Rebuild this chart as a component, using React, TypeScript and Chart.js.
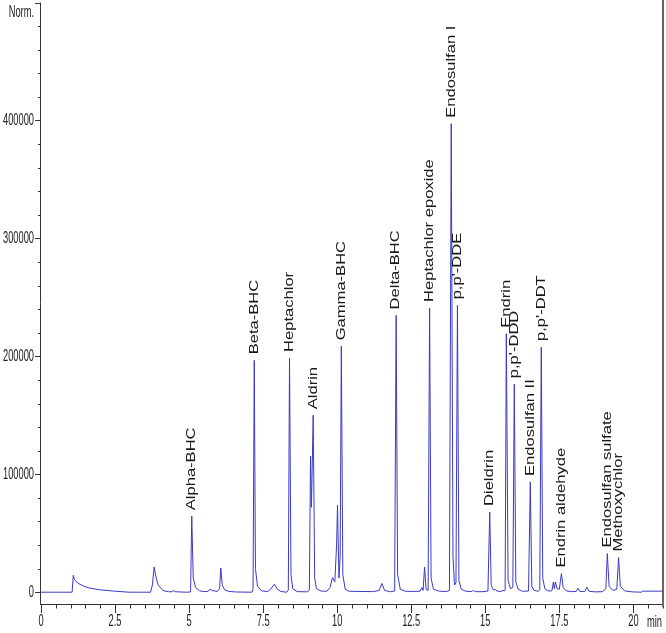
import React, { useEffect, useRef } from "react";
import { Chart, registerables } from "chart.js";

Chart.register(...registerables);

// Chromatogram trace: [retention time (min), response]
const trace: [number, number][] = [
  [0, 0], [1.05, 0], [1.09, 14400], [1.13, 10500], [1.25, 7600], [1.45, 5000], [1.66, 3400], [2.0, 2000], [2.43, 1000], [2.8, 300], [3.0, 0],
  [3.7, 0], [3.76, 6000], [3.82, 21400], [3.88, 13000], [3.96, 5900], [4.12, 1400], [4.3, 400], [4.42, 400], [4.47, 1500], [4.52, 400], [4.9, 0],
  [5.05, 200], [5.09, 64400], [5.14, 12000], [5.22, 4000], [5.35, 1200], [5.5, 500], [5.65, 800], [5.71, 2600], [5.78, 1500], [5.95, 600],
  [6.03, 3000], [6.07, 20600], [6.12, 6000], [6.2, 2000], [6.35, 600], [6.6, 200],
  [7.12, 0], [7.16, 3000], [7.2, 196600], [7.24, 20000], [7.31, 5000], [7.45, 1200], [7.65, 500], [7.75, 2500], [7.88, 6800], [7.98, 2500], [8.1, 600], [8.3, 0],
  [8.35, 2000], [8.39, 198600], [8.44, 15000], [8.5, 3000], [8.65, 500], [9.0, 300], [9.06, 2000], [9.1, 115300], [9.13, 72000], [9.19, 150000],
  [9.24, 12000], [9.3, 3000], [9.45, 1000], [9.65, 800], [9.76, 4000], [9.84, 12400], [9.92, 8700], [9.98, 40000], [10.01, 73700], [10.06, 12000],
  [10.1, 30000], [10.14, 208500], [10.19, 15000], [10.27, 2500], [10.4, 800], [10.8, 600], [11.2, 500], [11.42, 1500], [11.51, 7400], [11.6, 1500],
  [11.8, 400], [11.94, 1000], [11.99, 234700], [12.04, 15000], [12.13, 2500], [12.3, 800], [12.6, 600], [12.8, 900], [12.86, 4000], [12.9, 1500],
  [12.95, 21400], [13.0, 2500], [13.07, 1500], [13.12, 241000], [13.17, 12000], [13.25, 2500], [13.45, 800], [13.7, 600], [13.79, 1500],
  [13.85, 397200], [13.91, 30000], [13.96, 6000], [14.01, 8000], [14.06, 243200], [14.11, 10000], [14.19, 2500], [14.35, 800], [14.55, 500],
  [14.6, 1800], [14.65, 500], [14.9, 400], [15.09, 1000], [15.15, 68000], [15.2, 6000], [15.27, 2000], [15.34, 2200], [15.42, 800], [15.55, 700],
  [15.6, 1800], [15.64, 900], [15.67, 2000], [15.71, 219200], [15.77, 10000], [15.85, 3000], [15.93, 4000], [15.98, 176300], [16.03, 9000],
  [16.11, 2500], [16.25, 800], [16.46, 1000], [16.52, 93500], [16.57, 5000], [16.65, 1500], [16.79, 800], [16.84, 2000], [16.89, 207900],
  [16.94, 12000], [17.01, 3000], [17.12, 1000], [17.25, 1200], [17.3, 8700], [17.33, 3000], [17.37, 8700], [17.42, 3000], [17.5, 2500],
  [17.57, 15800], [17.63, 4000], [17.73, 1200], [17.9, 500], [18.07, 600], [18.13, 3400], [18.19, 700], [18.36, 600], [18.43, 4200], [18.5, 800],
  [18.7, 300], [18.95, 400], [19.07, 3000], [19.12, 32800], [19.18, 5000], [19.3, 1500], [19.44, 2500], [19.5, 29400], [19.56, 5000], [19.7, 1200],
  [19.95, 300], [20.28, 0], [20.3, 900], [21, 900],
];

const peakNames = [
  "Alpha-BHC", "Beta-BHC", "Heptachlor", "Aldrin", "Gamma-BHC", "Delta-BHC", "Heptachlor epoxide",
  "Endosulfan I", "p,p'-DDE", "Dieldrin", "Endrin", "p,p'-DDD", "Endosulfan II", "p,p'-DDT",
  "Endrin aldehyde", "Endosulfan sulfate", "Methoxychlor",
];
const peakTimes = [5.09, 7.2, 8.39, 9.19, 10.14, 11.99, 13.12, 13.85, 14.06, 15.15, 15.71, 15.98, 16.52, 16.89, 17.57, 19.12, 19.5];

const xMajorTicks = [0, 2.5, 5, 7.5, 10, 12.5, 15, 17.5, 20];
const xTickLabels = ["0", "2.5", "5", "7.5", "10", "12.5", "15", "17.5", "20"];
const yMajorTicks = [0, 100000, 200000, 300000, 400000];
const yTickLabels = ["0", "100000", "200000", "300000", "400000"];
const xMinorStep = 0.5;
const yMinorStep = 20000;
const xMin = 0, xMax = 21, yMin = -10000, yMax = 500000;

const AXIS_FONT = "9.3px 'Liberation Sans', Arial, sans-serif";
const LABEL_FONT = "12px 'Liberation Sans', Arial, sans-serif";

function stretchedText(ctx: CanvasRenderingContext2D, text: string, x: number, y: number, align: CanvasTextAlign, sy: number) {
  ctx.save();
  ctx.translate(x, y);
  ctx.scale(1, sy);
  ctx.textAlign = align;
  ctx.textBaseline = "middle";
  ctx.fillText(text, 0, 0);
  ctx.restore();
}

const axesPlugin = {
  id: "chromAxes",
  afterDraw(chart: any) {
    const ctx: CanvasRenderingContext2D = chart.ctx;
    const xs = chart.scales.x;
    const ys = chart.scales.y;
    const { left, right, top, bottom } = chart.chartArea;
    ctx.save();
    ctx.strokeStyle = "#333";
    ctx.lineWidth = 1;
    // y axis line
    ctx.beginPath();
    ctx.moveTo(left - 0.5, top);
    ctx.lineTo(left - 0.5, bottom);
    ctx.stroke();
    // y ticks
    for (let v = 0; v <= yMax + 1; v += yMinorStep) {
      const py = Math.round(ys.getPixelForValue(v)) + 0.5;
      const major = v % 100000 === 0;
      ctx.beginPath();
      ctx.moveTo(left - (major ? 6 : 3), py);
      ctx.lineTo(left, py);
      ctx.stroke();
    }
    // x axis line
    ctx.beginPath();
    ctx.moveTo(left - 1, bottom + 0.5);
    ctx.lineTo(right, bottom + 0.5);
    ctx.stroke();
    for (let i = 0; xMin + i * xMinorStep <= xMax + 1e-9; i++) {
      const t = xMin + i * xMinorStep;
      const px = Math.round(xs.getPixelForValue(t)) + 0.5;
      const major = i % 5 === 0;
      ctx.beginPath();
      ctx.moveTo(px, bottom);
      ctx.lineTo(px, bottom + (major ? 9 : 4.5));
      ctx.stroke();
    }
    // right border
    ctx.strokeStyle = "#666";
    ctx.lineWidth = 2;
    ctx.beginPath();
    ctx.moveTo(right, 0);
    ctx.lineTo(right, bottom + 3);
    ctx.stroke();

    // tick labels
    ctx.fillStyle = "#222";
    ctx.font = AXIS_FONT;
    yMajorTicks.forEach((v, i) => {
      stretchedText(ctx, yTickLabels[i], left - 7, ys.getPixelForValue(v), "right", 1.7);
    });
    stretchedText(ctx, "Norm.", left - 7, 12.5, "right", 1.7);
    xMajorTicks.forEach((t, i) => {
      stretchedText(ctx, xTickLabels[i], xs.getPixelForValue(t), bottom + 17.5, "center", 1.8);
    });
    stretchedText(ctx, "min", right - 1, bottom + 18.5, "right", 1.8);

    // peak labels
    ctx.font = LABEL_FONT;
    ctx.fillStyle = "#1a1a1a";
    peakNames.forEach((name, i) => {
      const t = peakTimes[i];
      let best = trace[0];
      for (const p of trace) if (Math.abs(p[0] - t) < Math.abs(best[0] - t)) best = p;
      const px = xs.getPixelForValue(best[0]);
      const py = ys.getPixelForValue(best[1]) - 6;
      ctx.save();
      ctx.translate(px, py);
      ctx.rotate(-Math.PI / 2);
      ctx.scale(1.38, 1);
      ctx.textAlign = "left";
      ctx.textBaseline = "middle";
      ctx.fillText(name, 0, 0);
      ctx.restore();
    });
    ctx.restore();
  },
};

export default function App() {
  const ref = useRef<HTMLCanvasElement | null>(null);
  useEffect(() => {
    if (!ref.current) return;
    const chart = new Chart(ref.current, {
      type: "line",
      data: {
        datasets: [
          {
            data: trace.map(([x, y]) => ({ x, y })),
            borderColor: "#3a3ac6",
            borderWidth: 1,
            pointRadius: 0,
            tension: 0,
            fill: false,
          },
        ],
      },
      options: {
        responsive: false,
        animation: false,
        devicePixelRatio: 1,
        layout: { padding: { left: 41, right: 3, top: 2.5, bottom: 29 } },
        plugins: { legend: { display: false }, tooltip: { enabled: false } },
        scales: {
          x: { type: "linear", min: xMin, max: xMax, display: false },
          y: { type: "linear", min: yMin, max: yMax, display: false },
        },
      },
      plugins: [axesPlugin],
    });
    return () => chart.destroy();
  }, []);
  return (
    <div style={{ position: "fixed", left: 0, top: 0, width: 666, height: 633, background: "#fff" }}>
      <canvas ref={ref} width={666} height={633} style={{ display: "block" }} />
    </div>
  );
}
